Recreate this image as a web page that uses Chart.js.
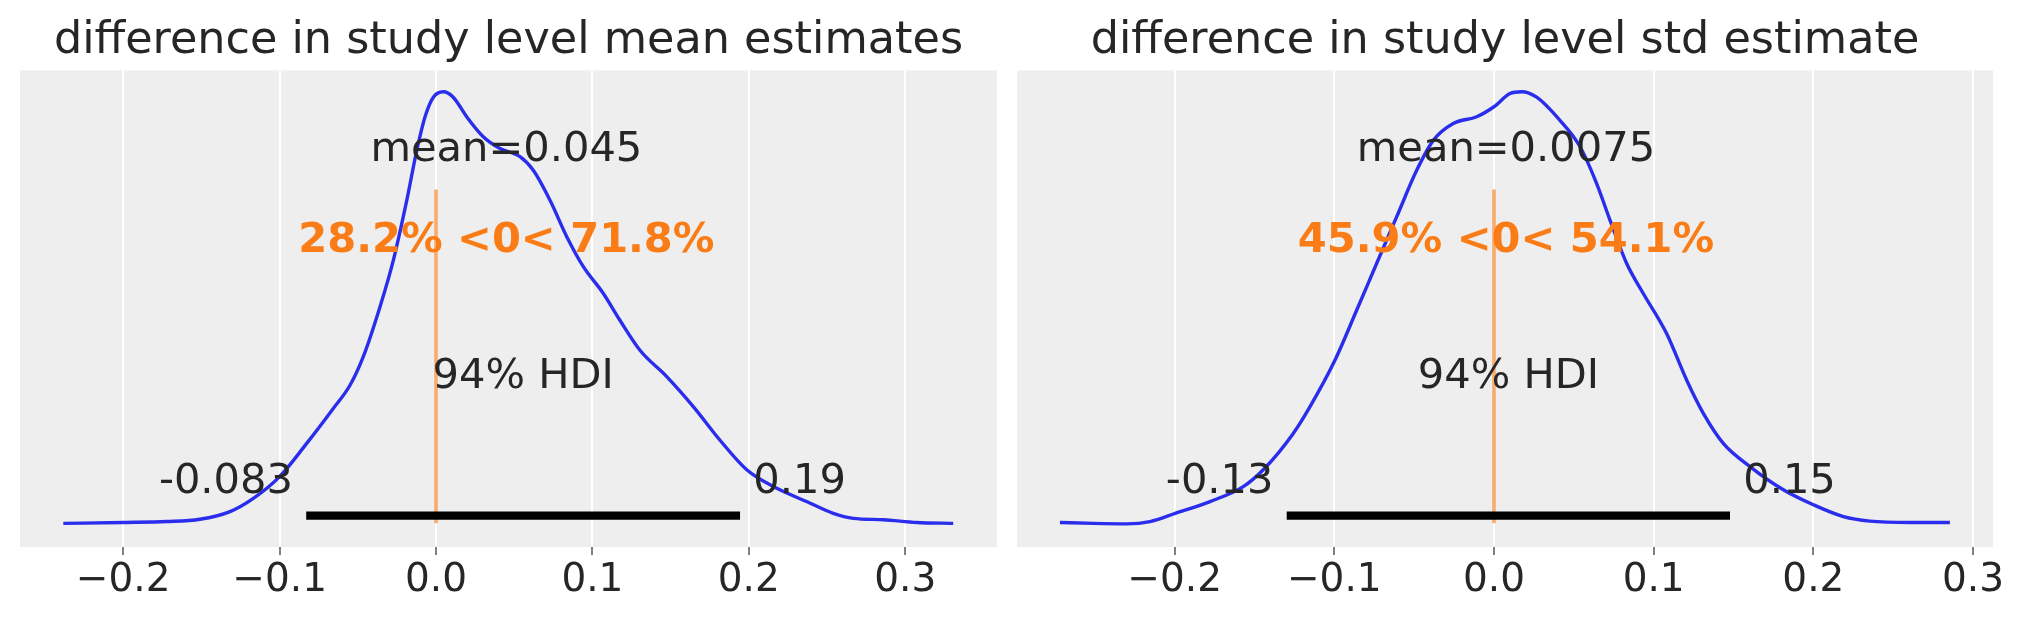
<!DOCTYPE html>
<html>
<head>
<meta charset="utf-8">
<script src="https://cdn.jsdelivr.net/npm/chart.js@4.4.0/dist/chart.umd.min.js"></script>
<style>
body { margin: 0; background: #fff; width: 2023px; height: 623px; overflow: hidden; position: relative; }
.panel { position: absolute; top: 0; height: 623px; }
</style>
</head>
<body>
<div class="panel" style="left:0;width:1017px"><canvas id="meanChart" width="1017" height="623"></canvas></div>
<div class="panel" style="left:997px;width:1016px"><canvas id="stdChart" width="1016" height="623"></canvas></div>
<script>
// x ticks shared by both panels
var tickVals = [-0.2, -0.1, 0.0, 0.1, 0.2, 0.3];
var tickText = ["\u22120.2", "\u22120.1", "0.0", "0.1", "0.2", "0.3"];

// left panel: difference in study level mean estimates
var meanTitle = "difference in study level mean estimates";
var meanX = [-0.2383, -0.2, -0.172, -0.151, -0.1317, -0.1168, -0.1, -0.0827, -0.0657, -0.055, -0.0465, -0.0358, -0.0273, -0.0187, -0.0123, -0.007, -0.0017, 0.0047, 0.011, 0.0196, 0.0302, 0.0409, 0.0537, 0.0622, 0.0729, 0.0836, 0.0942, 0.107, 0.1176, 0.1304, 0.1475, 0.1645, 0.1816, 0.1987, 0.2157, 0.237, 0.254, 0.2668, 0.286, 0.3073, 0.3307];
var meanDensity = [0.003, 0.005, 0.007, 0.012, 0.029, 0.058, 0.106, 0.179, 0.256, 0.307, 0.37, 0.48, 0.582, 0.714, 0.824, 0.898, 0.941, 0.953, 0.941, 0.898, 0.854, 0.828, 0.81, 0.78, 0.714, 0.634, 0.568, 0.509, 0.45, 0.384, 0.326, 0.26, 0.186, 0.121, 0.084, 0.051, 0.025, 0.014, 0.011, 0.005, 0.003];
var meanHdi = [-0.083, 0.1944];
var meanHdiText = ["-0.083", "0.19"];
var meanPoint = 0.045;
var meanPointText = "mean=0.045";
var meanRefText = "28.2% <0< 71.8%";
var meanRange = [-0.266, 0.3587];

// right panel: difference in study level std estimate
var stdTitle = "difference in study level std estimate";
var stdX = [-0.2718, -0.2509, -0.23, -0.2154, -0.1996, -0.1778, -0.157, -0.1445, -0.1257, -0.1152, -0.0996, -0.086, -0.0735, -0.0609, -0.0484, -0.038, -0.0255, -0.0108, 0, 0.01, 0.0173, 0.0267, 0.0413, 0.0539, 0.0643, 0.0727, 0.0831, 0.0935, 0.1081, 0.1207, 0.1311, 0.1436, 0.1603, 0.1812, 0.2, 0.2188, 0.2354, 0.2605, 0.2855];
var stdDensity = [0.005, 0.003, 0.002, 0.007, 0.025, 0.051, 0.084, 0.121, 0.201, 0.26, 0.362, 0.472, 0.575, 0.678, 0.78, 0.846, 0.883, 0.898, 0.92, 0.949, 0.953, 0.941, 0.89, 0.832, 0.751, 0.67, 0.575, 0.509, 0.421, 0.318, 0.245, 0.179, 0.128, 0.077, 0.044, 0.018, 0.008, 0.005, 0.005];
var stdHdi = [-0.1298, 0.1478];
var stdHdiText = ["-0.13", "0.15"];
var stdPoint = 0.0075;
var stdPointText = "mean=0.0075";
var stdRefText = "45.9% <0< 54.1%";
var stdRange = [-0.2987, 0.3125];

var refVal = 0;
var hdiProbText = "94% HDI";
var yRange = [-0.049, 1];

var textColor = "#262626";
var kdeColor = "#2a2eec";
var refColor = "rgba(250,124,23,0.65)";
var refTextColor = "#fa7c17";

// plot background + text annotations
var panelDecor = {
    id: "panelDecor",
    beforeDraw: function(chart) {
        var a = chart.chartArea, c = chart.ctx;
        c.save();
        c.fillStyle = "#eeeeee";
        c.fillRect(a.left, a.top, a.right - a.left, a.bottom - a.top);
        c.restore();
    },
    afterDatasetsDraw: function(chart) {
        var notes = chart.options.plugins.panelDecor.notes;
        var xs = chart.scales.x, ys = chart.scales.y, c = chart.ctx;
        for (let i = 0; i < notes.length; i++) {
            let n = notes[i];
            c.save();
            c.font = (n.bold ? "bold " : "") + "41.6px 'DejaVu Sans'";
            c.fillStyle = n.color || textColor;
            c.textAlign = n.align || "center";
            c.textBaseline = "alphabetic";
            c.fillText(n.text, xs.getPixelForValue(n.x), ys.getPixelForValue(n.y));
            c.restore();
        }
    }
};

function toPoints(xs, ys) {
    let pts = [];
    for (let i = 0; i < xs.length; i++) pts.push({x: xs[i], y: ys[i]});
    return pts;
}

function makeChart(id, title, xs, ys, hdi, hdiText, point, pointText, refText, range) {
    let span = yRange[1] - yRange[0];
    let refLo = yRange[0] + 0.05 * span;
    let refHi = yRange[0] + 0.75 * span;
    let notes = [
        {x: point, y: 0.8, text: pointText},
        {x: point, y: 0.6, text: refText, bold: true, color: refTextColor},
        {x: (hdi[0] + hdi[1]) / 2, y: 0.3, text: hdiProbText},
        {x: hdi[0], y: 0.07, text: hdiText[0] + " ", align: "right"},
        {x: hdi[1], y: 0.07, text: " " + hdiText[1], align: "left"}
    ];
    return new Chart(document.getElementById(id), {
        type: "scatter",
        data: {
            datasets: [
                {data: toPoints(xs, ys), showLine: true, borderColor: kdeColor, borderWidth: 3.4, pointRadius: 0, cubicInterpolationMode: "monotone"},
                {data: [{x: hdi[0], y: 0.02}, {x: hdi[1], y: 0.02}], showLine: true, borderColor: "#000000", borderWidth: 8.3, borderCapStyle: "butt", pointRadius: 0},
                {data: [{x: refVal, y: refLo}, {x: refVal, y: refHi}], showLine: true, borderColor: refColor, borderWidth: 3.4, pointRadius: 0}
            ]
        },
        options: {
            responsive: false,
            animation: false,
            layout: {padding: {left: 20, right: 20, top: 0, bottom: 15.6}},
            scales: {
                x: {
                    type: "linear",
                    min: range[0],
                    max: range[1],
                    afterBuildTicks: function(scale) {
                        scale.ticks = tickVals.map(function(v) { return {value: v}; });
                    },
                    ticks: {
                        callback: function(v, i) { return tickText[i]; },
                        font: {family: "'DejaVu Sans'", size: 39},
                        color: textColor,
                        padding: 2.8,
                        maxRotation: 0,
                        autoSkip: false
                    },
                    grid: {color: "#ffffff", lineWidth: 2, tickColor: "#7f7f7f", tickLength: 8},
                    border: {display: false}
                },
                y: {display: false, min: yRange[0], max: yRange[1]}
            },
            plugins: {
                legend: {display: false},
                tooltip: {enabled: false},
                title: {
                    display: true,
                    text: title,
                    color: textColor,
                    font: {family: "'DejaVu Sans'", size: 44.5, weight: "normal"},
                    padding: {top: 15, bottom: 2}
                },
                panelDecor: {notes: notes}
            }
        },
        plugins: [panelDecor]
    });
}

makeChart("meanChart", meanTitle, meanX, meanDensity, meanHdi, meanHdiText, meanPoint, meanPointText, meanRefText, meanRange);
makeChart("stdChart", stdTitle, stdX, stdDensity, stdHdi, stdHdiText, stdPoint, stdPointText, stdRefText, stdRange);
</script>
</body>
</html>
